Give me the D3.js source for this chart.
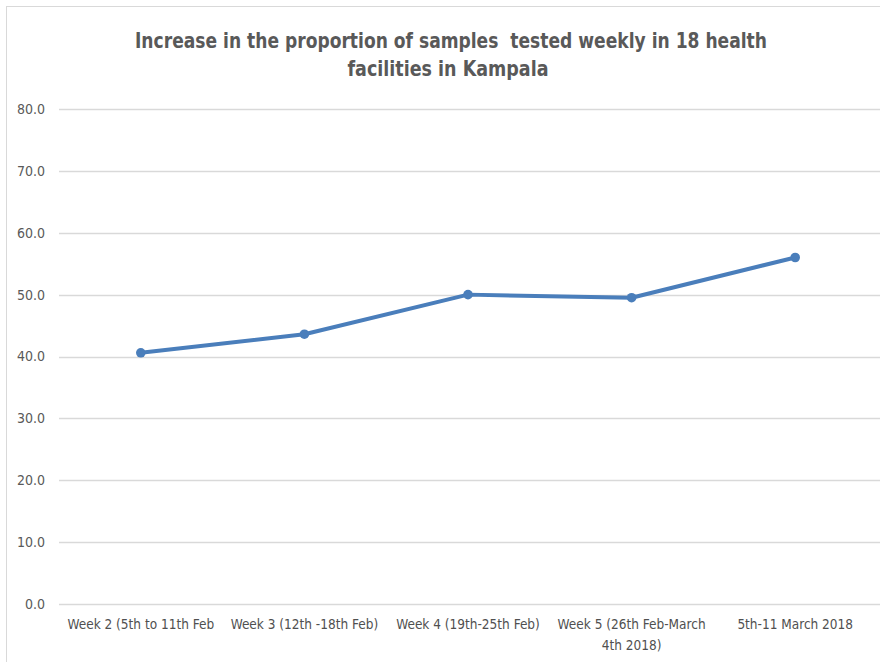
<!DOCTYPE html>
<html>
<head>
<meta charset="utf-8">
<script src="https://cdn.jsdelivr.net/npm/d3@7"></script>
<style>
    body { margin: 0; background: #fff; }
    svg { display: block; }
    .tick text { font-family: "Liberation Sans Narrow", "DejaVu Sans Condensed", sans-serif; }
</style>
</head>
<body>
<div id="chart"></div>
<script>
// Chart data
const categories = [
    'Week 2 (5th to 11th Feb',
    'Week 3 (12th -18th Feb)',
    'Week 4 (19th-25th Feb)',
    'Week 5 (26th Feb-March 4th 2018)',
    '5th-11 March 2018'
];
const proportions = [40.6, 43.6, 50.0, 49.5, 56.0];
const yTicks = [0, 10, 20, 30, 40, 50, 60, 70, 80];
const titleLines = [
    'Increase in the proportion of samples  tested weekly in 18 health',
    'facilities in Kampala'
];
const titleWidths = [632, 201];

const width = 880, height = 662;
const margin = { top: 109, right: 3, bottom: 58, left: 59 };
const innerW = width - margin.left - margin.right;
const innerH = height - margin.top - margin.bottom;
const lineColor = '#4a7ebb';
const textColor = '#595959';
const font = '"Liberation Sans Narrow", "DejaVu Sans Condensed", sans-serif';

const svg = d3.select('#chart')
    .append('svg')
    .attr('width', width)
    .attr('height', height);

// Chart area border
svg.append('rect')
    .attr('x', 6.5).attr('y', 6.5)
    .attr('width', 900).attr('height', 700)
    .attr('fill', 'none')
    .attr('stroke', '#d9d9d9')
    .attr('stroke-width', 1);

// Title
svg.append('g').selectAll('text')
    .data(titleLines)
    .enter().append('text')
    .attr('x', (d, i) => i === 0 ? 451 : 448)
    .attr('y', (d, i) => 48 + i * 28)
    .attr('text-anchor', 'middle')
    .attr('font-family', font)
    .attr('font-size', 22)
    .attr('font-weight', 'bold')
    .attr('fill', textColor)
    .attr('textLength', (d, i) => titleWidths[i])
    .attr('lengthAdjust', 'spacingAndGlyphs')
    .style('white-space', 'pre')
    .text(d => d);

const g = svg.append('g')
    .attr('transform', `translate(${margin.left},${margin.top})`);

// Scales
const xScale = d3.scaleBand()
    .domain(categories)
    .range([0, innerW]);

const yScale = d3.scaleLinear()
    .domain([0, 80])
    .range([innerH, 0]);

// Gridlines
g.append('g')
    .selectAll('line')
    .data(yTicks)
    .enter().append('line')
    .attr('x1', 0).attr('x2', innerW + 10)
    .attr('y1', d => Math.round(yScale(d)) + 0.5)
    .attr('y2', d => Math.round(yScale(d)) + 0.5)
    .attr('stroke', '#d9d9d9')
    .attr('stroke-width', 1.3);

// Y axis
const yAxis = g.append('g')
    .call(d3.axisLeft(yScale).tickValues(yTicks).tickFormat(d3.format('.1f')).tickSize(0).tickPadding(14));
yAxis.select('.domain').remove();
yAxis.selectAll('text')
    .attr('font-size', 14)
    .attr('fill', textColor);

// X axis
const xAxis = g.append('g')
    .attr('transform', `translate(0,${innerH})`)
    .call(d3.axisBottom(xScale).tickSize(0).tickPadding(15));
xAxis.select('.domain').remove();
xAxis.selectAll('text')
    .attr('font-size', 13.5)
    .attr('fill', '#505050')
    .call(wrap, 156);

// Line
const line = d3.line()
    .x((d, i) => xScale(categories[i]) + xScale.bandwidth() / 2)
    .y(d => yScale(d));

g.append('path')
    .datum(proportions)
    .attr('fill', 'none')
    .attr('stroke', lineColor)
    .attr('stroke-width', 4)
    .attr('stroke-linejoin', 'round')
    .attr('d', line);

g.selectAll('.dot')
    .data(proportions)
    .enter().append('circle')
    .attr('class', 'dot')
    .attr('cx', (d, i) => xScale(categories[i]) + xScale.bandwidth() / 2)
    .attr('cy', d => yScale(d))
    .attr('r', 4.8)
    .attr('fill', lineColor);

// Wrap long tick labels onto several lines
function wrap(texts, maxWidth) {
    texts.each(function() {
        const text = d3.select(this);
        const words = text.text().split(/\s+/);
        const y = text.attr('y');
        const dy = parseFloat(text.attr('dy')) || 0;
        text.text(null);
        let lineWords = [];
        let lineNo = 0;
        let tspan = text.append('tspan').attr('x', 0).attr('y', y).attr('dy', dy + 'em');
        words.forEach(word => {
            lineWords.push(word);
            tspan.text(lineWords.join(' '));
            if (tspan.node().getComputedTextLength() > maxWidth && lineWords.length > 1) {
                lineWords.pop();
                tspan.text(lineWords.join(' '));
                lineWords = [word];
                lineNo++;
                tspan = text.append('tspan')
                    .attr('x', 0).attr('y', y)
                    .attr('dy', (lineNo * 1.55 + dy) + 'em')
                    .text(word);
            }
        });
    });
}
</script>
</body>
</html>
